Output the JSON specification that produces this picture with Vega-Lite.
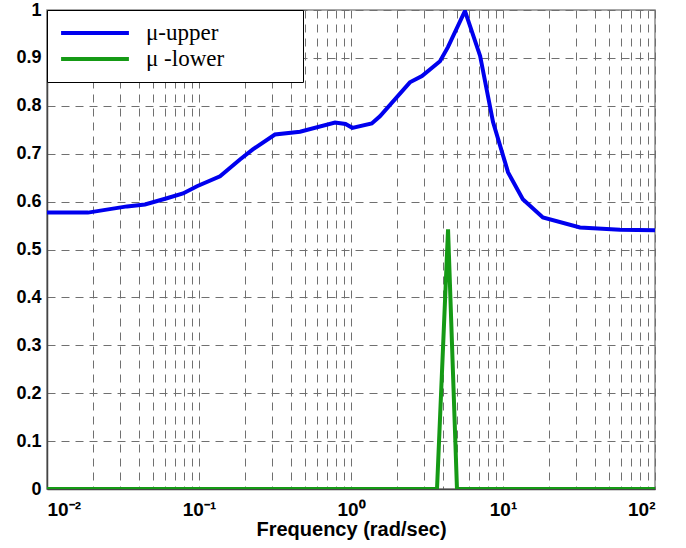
{
  "$schema": "https://vega.github.io/schema/vega-lite/v6.json",
  "width": 608,
  "height": 479,
  "autosize": {"type": "none"},
  "padding": {"left": 47, "top": 10, "right": 31, "bottom": 59},
  "background": "white",
  "config": {
    "view": {"stroke": "#8a8a8a", "strokeWidth": 1.5},
    "axis": {
      "labelFont": "Liberation Sans",
      "labelFontWeight": "bold",
      "labelFontSize": 18,
      "labelColor": "black",
      "titleFont": "Liberation Sans",
      "titleFontWeight": "bold",
      "titleFontSize": 20,
      "titleColor": "black",
      "grid": true,
      "gridColor": "#707070",
      "gridDash": [8, 6],
      "gridWidth": 1,
      "ticks": false,
      "domainColor": "#444444",
      "domainWidth": 1.5
    }
  },
  "data": {
    "values": [
      {"f": 0.01, "mu": 0.577, "s": "μ-upper"},
      {"f": 0.0186, "mu": 0.577, "s": "μ-upper"},
      {"f": 0.0336, "mu": 0.59, "s": "μ-upper"},
      {"f": 0.0441, "mu": 0.594, "s": "μ-upper"},
      {"f": 0.0615, "mu": 0.607, "s": "μ-upper"},
      {"f": 0.0785, "mu": 0.617, "s": "μ-upper"},
      {"f": 0.097, "mu": 0.632, "s": "μ-upper"},
      {"f": 0.1375, "mu": 0.653, "s": "μ-upper"},
      {"f": 0.186, "mu": 0.688, "s": "μ-upper"},
      {"f": 0.226, "mu": 0.709, "s": "μ-upper"},
      {"f": 0.316, "mu": 0.74, "s": "μ-upper"},
      {"f": 0.462, "mu": 0.746, "s": "μ-upper"},
      {"f": 0.785, "mu": 0.765, "s": "μ-upper"},
      {"f": 0.92, "mu": 0.762, "s": "μ-upper"},
      {"f": 1.02, "mu": 0.754, "s": "μ-upper"},
      {"f": 1.37, "mu": 0.763, "s": "μ-upper"},
      {"f": 1.55, "mu": 0.778, "s": "μ-upper"},
      {"f": 2.44, "mu": 0.849, "s": "μ-upper"},
      {"f": 2.93, "mu": 0.862, "s": "μ-upper"},
      {"f": 3.85, "mu": 0.893, "s": "μ-upper"},
      {"f": 4.35, "mu": 0.923, "s": "μ-upper"},
      {"f": 5.62, "mu": 0.998, "s": "μ-upper"},
      {"f": 7.07, "mu": 0.904, "s": "μ-upper"},
      {"f": 8.6, "mu": 0.766, "s": "μ-upper"},
      {"f": 10.8, "mu": 0.661, "s": "μ-upper"},
      {"f": 13.5, "mu": 0.605, "s": "μ-upper"},
      {"f": 18.3, "mu": 0.567, "s": "μ-upper"},
      {"f": 32.1, "mu": 0.546, "s": "μ-upper"},
      {"f": 58.9, "mu": 0.541, "s": "μ-upper"},
      {"f": 100, "mu": 0.54, "s": "μ-upper"},
      {"f": 0.01, "mu": 0, "s": "μ -lower"},
      {"f": 3.68, "mu": 0, "s": "μ -lower"},
      {"f": 4.35, "mu": 0.542, "s": "μ -lower"},
      {"f": 4.98, "mu": 0, "s": "μ -lower"},
      {"f": 100, "mu": 0, "s": "μ -lower"}
    ]
  },
  "mark": {"type": "line", "strokeWidth": 4, "clip": true},
  "encoding": {
    "x": {
      "field": "f",
      "type": "quantitative",
      "scale": {"type": "log", "domain": [0.01, 100], "nice": false},
      "axis": {
        "title": "Frequency (rad/sec)",
        "titlePadding": 0,
        "labelPadding": 11,
        "labelFontSize": 19,
        "values": [0.01, 0.02, 0.03, 0.04, 0.05, 0.06, 0.07, 0.08, 0.09, 0.1, 0.2, 0.3, 0.4, 0.5, 0.6, 0.7, 0.8, 0.9, 1, 2, 3, 4, 5, 6, 7, 8, 9, 10, 20, 30, 40, 50, 60, 70, 80, 90, 100],
        "labelExpr": "datum.value == 0.01 ? '10⁻²' : datum.value == 0.1 ? '10⁻¹' : datum.value == 1 ? '10⁰' : datum.value == 10 ? '10¹' : datum.value == 100 ? '10²' : ''",
        "labelOverlap": false
      }
    },
    "y": {
      "field": "mu",
      "type": "quantitative",
      "scale": {"domain": [0, 1], "nice": false},
      "axis": {
        "title": null,
        "values": [0, 0.1, 0.2, 0.3, 0.4, 0.5, 0.6, 0.7, 0.8, 0.9, 1],
        "format": ".1~f",
        "labelPadding": 6
      }
    },
    "color": {
      "field": "s",
      "type": "nominal",
      "scale": {"domain": ["μ-upper", "μ -lower"], "range": ["#0000ee", "#159a15"]},
      "legend": {
        "title": null,
        "orient": "top-left",
        "offset": 0,
        "fillColor": "white",
        "strokeColor": "black",
        "padding": 10,
        "rowPadding": 0,
        "clipHeight": 26,
        "symbolOffset": 2,
        "symbolType": "stroke",
        "symbolStrokeWidth": 4,
        "symbolSize": 4600,
        "labelFont": "Liberation Serif",
        "labelFontSize": 23,
        "labelColor": "black",
        "labelOffset": 15,
        "labelExpr": "datum.label + '\u2800\u2800\u2800\u2800'",
        "labelLimit": 400
      }
    }
  }
}
